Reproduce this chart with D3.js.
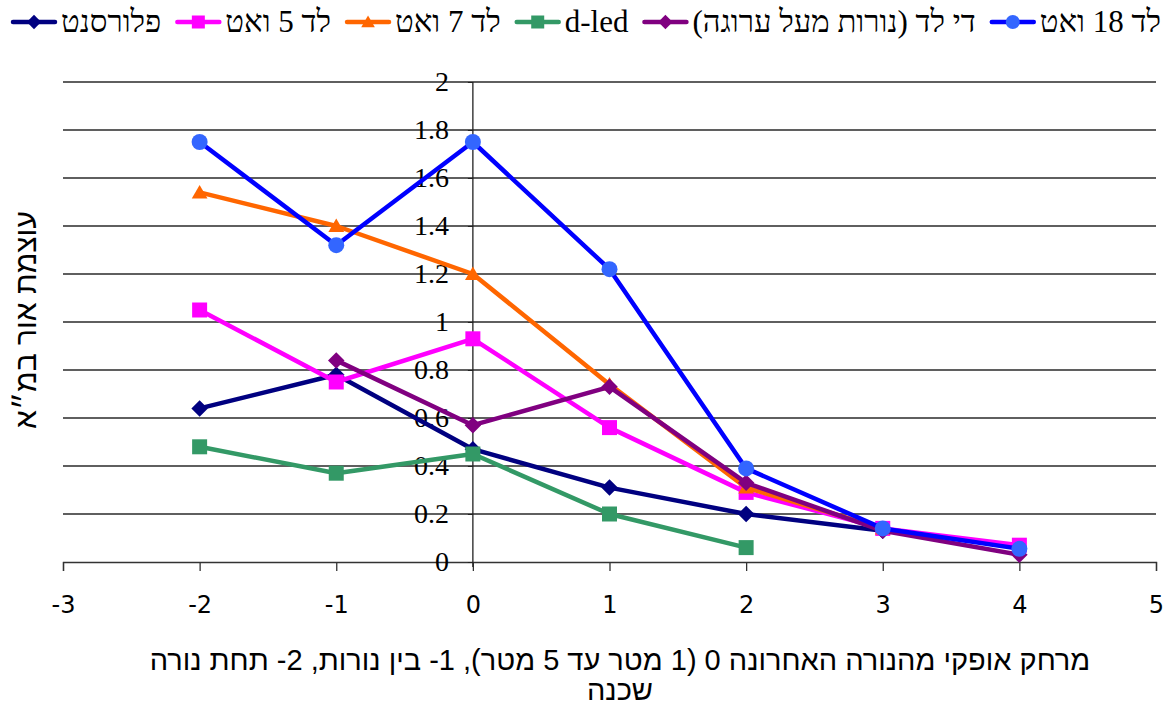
<!DOCTYPE html>
<html>
<head>
<meta charset="utf-8">
<script src="https://cdn.jsdelivr.net/npm/d3@7"></script>
<style>
  html, body { margin: 0; padding: 0; background: #fff; }
  svg { display: block; }
  .xtick text { font-family: 'DejaVu Sans', sans-serif; font-size: 24px; }
</style>
</head>
<body>
<svg id="chart" width="1165" height="707"></svg>
<script>
// Horizontal distance from the last lamp (x) and light intensity per lamp type
const distances = [-2, -1, 0, 1, 2, 3, 4];
const fluorescent = [0.64, 0.78, 0.47, 0.31, 0.20, 0.13, null];
const led5W = [1.05, 0.75, 0.93, 0.56, 0.29, 0.14, 0.07];
const led7W = [1.54, 1.40, 1.20, 0.74, 0.31, 0.14, null];
const dLed = [0.48, 0.37, 0.45, 0.20, 0.06, null, null];
const diLedBed = [null, 0.84, 0.57, 0.73, 0.33, 0.13, 0.03];
const led18W = [1.75, 1.32, 1.75, 1.22, 0.39, 0.14, 0.055];

const seriesNames = ["פלורסנט", "לד 5 ואט", "לד 7 ואט", "d-led", "די לד (נורות מעל ערוגה)", "לד 18 ואט"];
const xTicks = [-3, -2, -1, 0, 1, 2, 3, 4, 5];
const yTicks = [0, 0.2, 0.4, 0.6, 0.8, 1, 1.2, 1.4, 1.6, 1.8, 2];
const yTitle = "עוצמת אור במ״א";
const xTitleLines = ["מרחק אופקי מהנורה האחרונה 0 (1 מטר עד 5 מטר), 1- בין נורות, 2- תחת נורה", "שכנה"];

const series = [
  { name: seriesNames[0], values: fluorescent, line: "#000080", fill: "#000080", shape: "diamond" },
  { name: seriesNames[1], values: led5W, line: "#FF00FF", fill: "#FF00FF", shape: "square" },
  { name: seriesNames[2], values: led7W, line: "#FF6600", fill: "#FF6600", shape: "triangle" },
  { name: seriesNames[3], values: dLed, line: "#339966", fill: "#339966", shape: "square" },
  { name: seriesNames[4], values: diLedBed, line: "#800080", fill: "#800080", shape: "diamond" },
  { name: seriesNames[5], values: led18W, line: "#0000FF", fill: "#3366FF", shape: "circle" }
];

const svg = d3.select("#chart");
const x = d3.scaleLinear().domain([-3, 5]).range([63, 1156]);
const y = d3.scaleLinear().domain([0, 2]).range([562, 82]);

function markerPath(shape, s) {
  const r = s / 2;
  if (shape === "diamond") return `M0,${-r * 1.1}L${r * 1.1},0L0,${r * 1.1}L${-r * 1.1},0Z`;
  if (shape === "square") return `M${-r},${-r}H${r}V${r}H${-r}Z`;
  if (shape === "triangle") return `M0,${-r}L${r * 1.05},${r * 0.8}L${-r * 1.05},${r * 0.8}Z`;
  return d3.symbol(d3.symbolCircle, Math.PI * r * r)();
}

// Gridlines
svg.append("g").selectAll("line").data(yTicks.filter(d => d > 0)).join("line")
  .attr("x1", x(-3)).attr("x2", x(5))
  .attr("y1", d => y(d)).attr("y2", d => y(d))
  .attr("stroke", "#2a2a2a").attr("stroke-width", 1.3);

// X axis along y = 0
const xAxis = svg.append("g").attr("class", "xtick").attr("transform", `translate(0,${y(0)})`)
  .call(d3.axisBottom(x).tickValues(xTicks).tickSize(9).tickPadding(25).tickFormat(d3.format("d")));
xAxis.attr("font-size", 24).attr("font-family", "DejaVu Sans");
xAxis.select(".domain").attr("stroke", "#333").attr("stroke-width", 1.3);
xAxis.selectAll(".tick line").attr("stroke", "#333").attr("stroke-width", 1.3);
xAxis.selectAll(".tick text").attr("fill", "#000")
  .text(d => d < 0 ? "-" + Math.abs(d) : d);

// Y axis crossing at x = 0
const yAxis = svg.append("g").attr("transform", `translate(${x(0)},0)`)
  .call(d3.axisLeft(y).tickValues(yTicks).tickSize(5).tickSizeOuter(0).tickPadding(19).tickFormat(d => d3.format("")(+d.toFixed(1))));
yAxis.select(".domain").attr("stroke", "#222").attr("stroke-width", 1.3).attr("d", `M0,${y(2)}V${y(0) + 5}`);
yAxis.selectAll(".tick line").attr("stroke", "#222");
yAxis.selectAll(".tick text")
  .style("font-family", "'Liberation Serif'").style("font-size", "28px").attr("fill", "#000");

// Series lines and markers
const line = d3.line()
  .defined(d => d.v !== null)
  .x(d => x(d.x)).y(d => y(d.v));

series.forEach(s => {
  const pts = distances.map((d, i) => ({ x: d, v: s.values[i] }));
  const g = svg.append("g");
  g.append("path").datum(pts)
    .attr("d", line).attr("fill", "none")
    .attr("stroke", s.line).attr("stroke-width", 4.5).attr("stroke-linejoin", "round");
  g.selectAll("path.m").data(pts.filter(p => p.v !== null)).join("path").attr("class", "m")
    .attr("transform", p => `translate(${x(p.x)},${y(p.v)})`)
    .attr("d", markerPath(s.shape, s.shape === "circle" ? 16 : 15))
    .attr("fill", s.fill);
});

// Legend
const legend = svg.append("g").attr("transform", "translate(0,22)");
let lx = 11;
series.forEach(s => {
  const item = legend.append("g").attr("transform", `translate(${lx},0)`);
  item.append("line").attr("x1", 2).attr("x2", 44).attr("y1", 0).attr("y2", 0)
    .attr("stroke", s.line).attr("stroke-width", 4.5).attr("stroke-linecap", "round");
  item.append("path").attr("transform", "translate(23,0)")
    .attr("d", markerPath(s.shape, s.shape === "circle" ? 14 : 13)).attr("fill", s.fill);
  const t = item.append("text")
    .attr("y", 10).style("font-family", "'Liberation Serif'").style("font-size", "31px")
    .attr("direction", "rtl").attr("text-anchor", "middle").text(s.name);
  const w = t.node().getComputedTextLength();
  t.attr("x", 50 + w / 2);
  lx += 50 + w + 14;
});

// Axis titles
svg.append("text")
  .attr("transform", `translate(36,${y(1.0) - 2}) rotate(-90)`)
  .style("font-family", "'Liberation Sans'").style("font-size", "30px")
  .attr("direction", "rtl").attr("text-anchor", "middle").text(yTitle);

svg.append("g").selectAll("text").data(xTitleLines).join("text")
  .attr("x", 620).attr("y", (d, i) => 670 + i * 30)
  .style("font-family", "'Liberation Sans'").style("font-size", "29px")
  .attr("direction", "rtl").attr("text-anchor", "middle").text(d => d);
</script>
</body>
</html>
